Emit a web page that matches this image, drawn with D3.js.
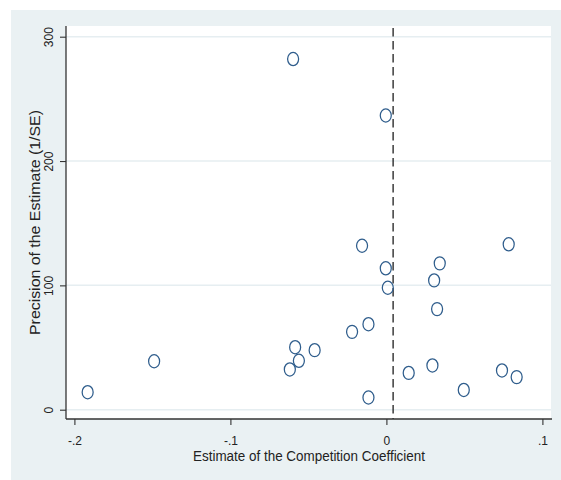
<!DOCTYPE html>
<html>
<head>
<meta charset="utf-8">
<script src="https://cdn.jsdelivr.net/npm/d3@7"></script>
<style>
  html, body { margin: 0; padding: 0; background: #ffffff; }
  svg { display: block; font-family: "Liberation Sans", Arial, sans-serif; }
</style>
</head>
<body>
<svg id="chart" width="561" height="480"></svg>
<script>
// ---- data ----
const estimates = [-0.0598, -0.0004, -0.0156, 0.0784, 0.0342, -0.0004, 0.0306, 0.0009,
  0.0325, -0.0115, -0.0220, -0.0585, -0.0460, -0.0561, -0.0619, 0.0295, 0.0143,
  0.0741, 0.0835, 0.0496, -0.0115, -0.1489, -0.1915];
const precisions = [282, 236.6, 131.9, 133, 117.7, 113.7, 104, 98.1,
  80.9, 68.8, 62.6, 50.3, 47.9, 39.3, 32.4, 35.6, 29.6,
  31.6, 26.2, 15.9, 9.8, 39, 14.1];
const xTicks = [-0.2, -0.1, 0, 0.1];
const xTickLabels = ["-.2", "-.1", "0", ".1"];
const yTicks = [0, 100, 200, 300];
const yTickLabels = ["0", "100", "200", "300"];
const refLineValue = [0.0043];
const xTitle = "Estimate of the Competition Coefficient";
const yTitle = "Precision of the Estimate (1/SE)";

// ---- layout ----
const svg = d3.select("#chart");
const outer = { x: 11, y: 10 };
const plot = { left: 66, right: 551, top: 26, bottom: 419 };

const x = d3.scaleLinear().domain([-0.2, 0.1]).range([74.4, 542.4]);
const y = d3.scaleLinear().domain([0, 300]).range([409.7, 36.7]);

// outer background
svg.append("rect").attr("x", outer.x).attr("y", outer.y)
  .attr("width", 561 - outer.x).attr("height", 480 - outer.y)
  .attr("fill", "#eaf1f3");

// plot region
svg.append("rect").attr("x", plot.left).attr("y", plot.top)
  .attr("width", plot.right - plot.left).attr("height", plot.bottom - plot.top)
  .attr("fill", "#ffffff");

// gridlines
svg.append("g").selectAll("line").data(yTicks).join("line")
  .attr("x1", plot.left).attr("x2", plot.right)
  .attr("y1", d => y(d)).attr("y2", d => y(d))
  .attr("stroke", "#e6eef1").attr("stroke-width", 1.5);

// reference dashed line
svg.append("g").selectAll("line").data(refLineValue).join("line")
  .attr("x1", d => x(d)).attr("x2", d => x(d))
  .attr("y1", plot.top + 2).attr("y2", plot.bottom)
  .attr("stroke", "#1e1e1e").attr("stroke-width", 1.3)
  .attr("stroke-dasharray", "8.5,4.5");

// points
svg.append("g").selectAll("ellipse").data(estimates.map((e, i) => [e, precisions[i]])).join("ellipse")
  .attr("cx", d => x(d[0])).attr("cy", d => y(d[1]))
  .attr("rx", 5.5).attr("ry", 6.6)
  .attr("fill", "none").attr("stroke", "#2f5d8c").attr("stroke-width", 1.25);

// x axis
const xAxis = d3.axisBottom(x).tickValues(xTicks)
  .tickFormat((d, i) => xTickLabels[i]).tickSize(6).tickSizeOuter(0);
const gx = svg.append("g").attr("transform", `translate(0,${plot.bottom})`).call(xAxis);
gx.select(".domain").remove();
gx.append("line").attr("x1", plot.left).attr("x2", 552).attr("y1", 0).attr("y2", 0)
  .attr("stroke", "#333").attr("stroke-width", 1.3);
gx.selectAll(".tick line").attr("stroke", "#333").attr("stroke-width", 1.1);
gx.selectAll(".tick text").attr("font-size", 12).attr("fill", "#222")
  .attr("font-family", "Liberation Sans, Arial, sans-serif")
  .attr("y", 25.5).attr("dy", 0);

// y axis
const yAxis = d3.axisLeft(y).tickValues(yTicks)
  .tickFormat((d, i) => yTickLabels[i]).tickSize(6).tickSizeOuter(0);
const gy = svg.append("g").attr("transform", `translate(${plot.left},0)`).call(yAxis);
gy.select(".domain").remove();
gy.append("line").attr("x1", 0).attr("x2", 0).attr("y1", plot.top).attr("y2", plot.bottom)
  .attr("stroke", "#333").attr("stroke-width", 1.3);
gy.selectAll(".tick line").attr("stroke", "#333").attr("stroke-width", 1.1);
gy.selectAll(".tick text")
  .attr("font-size", 12).attr("fill", "#222")
  .attr("font-family", "Liberation Sans, Arial, sans-serif")
  .attr("x", 0).attr("dy", 0)
  .attr("text-anchor", "middle")
  .attr("transform", "translate(-13.5,0) rotate(-90)");

// axis titles
svg.append("text").attr("x", 309).attr("y", 461)
  .attr("text-anchor", "middle").attr("font-size", 14).attr("fill", "#222")
  .attr("textLength", 232).attr("lengthAdjust", "spacingAndGlyphs")
  .text(xTitle);

svg.append("text")
  .attr("transform", "translate(40,222.5) rotate(-90)")
  .attr("text-anchor", "middle").attr("font-size", 14).attr("fill", "#222")
  .attr("textLength", 225).attr("lengthAdjust", "spacingAndGlyphs")
  .text(yTitle);
</script>
</body>
</html>
